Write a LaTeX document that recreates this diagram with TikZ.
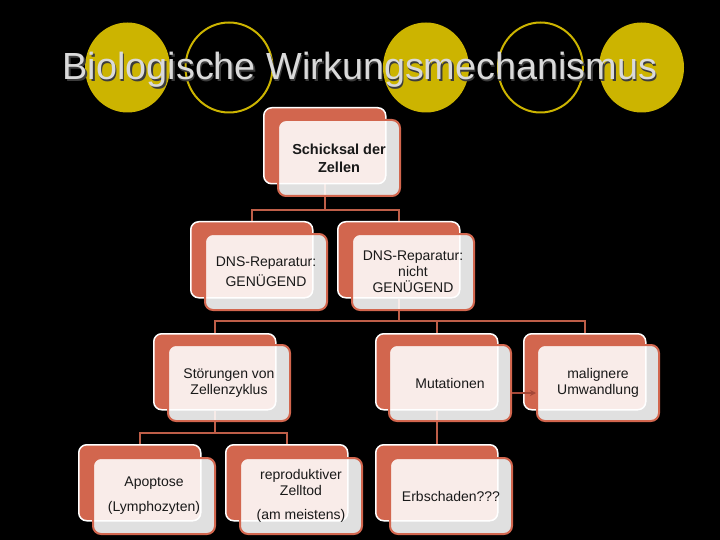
\documentclass[tikz,border=0pt]{standalone}
\usepackage{fontspec}
\setmainfont{Liberation Sans}
\usetikzlibrary{arrows.meta}
\pgfdeclarelayer{bg}
\pgfdeclarelayer{conns}
\pgfsetlayers{bg,conns,main}
\definecolor{ylw}{RGB}{204,180,0}
\definecolor{coral}{RGB}{210,102,78}
\definecolor{coralline}{RGB}{190,94,72}
\definecolor{arrowcol}{RGB}{165,72,56}
\definecolor{titlegray}{RGB}{218,218,218}
\definecolor{shadowgray}{RGB}{60,60,60}
\begin{document}
\begin{tikzpicture}[x=1pt,y=-1pt,
  backbox/.style={draw=white, line width=1.5pt, fill=coral, rounded corners=8pt,
    minimum width=122pt, minimum height=76pt, inner sep=0pt, anchor=north west},
  frontbox/.style={draw=coral, line width=2pt, fill=white, fill opacity=0.88, text opacity=1,
    rounded corners=8pt, minimum width=122pt, minimum height=76pt, inner sep=0pt,
    anchor=north west, align=center, text=black!90, font=\fontsize{14}{16}\selectfont},
  conn/.style={draw=coralline, line width=2.5pt},
  deco/.style={ylw, line width=2pt},
  titlefont/.style={font=\fontsize{37.8}{40}\selectfont, anchor=base}]
\useasboundingbox (0,0) rectangle (720,540);
\begin{pgfonlayer}{bg}
\fill[black] (0,0) rectangle (720,540);
\end{pgfonlayer}
% decorative circles
\fill[ylw] (127.5,67.5) ellipse [x radius=42.5, y radius=45];
\draw[deco] (229,67.5) ellipse [x radius=43.5, y radius=45];
\fill[ylw] (426,67.5) ellipse [x radius=43, y radius=45];
\draw[deco] (540.5,67.5) ellipse [x radius=42.5, y radius=45];
\fill[ylw] (641.5,67.5) ellipse [x radius=42.5, y radius=45];
% title with soft shadow
\node[titlefont, text=shadowgray] (titleshadow) at (361.5,81.5) {Biologische Wirkungsmechanismus};
\node[titlefont, text=titlegray] (title) at (360,80) {Biologische Wirkungsmechanismus};
% junction coordinates
\coordinate (j1) at (324,210);
\coordinate (j2) at (398,321);
\coordinate (j3) at (214,433);
% back boxes
\path (263,107) node[backbox] (sB) {};
\path (190,221) node[backbox] (dgB) {};
\path (337,221) node[backbox] (dnB) {};
\path (153,333) node[backbox] (stB) {};
\path (375,333) node[backbox] (muB) {};
\path (523,333) node[backbox] (maB) {};
\path (78,444) node[backbox] (apB) {};
\path (225,444) node[backbox] (reB) {};
\path (375,444) node[backbox] (erB) {};
% connectors (behind the boxes)
\begin{pgfonlayer}{conns}
\draw[conn] (sB.south) -- (sB.south |- j1);
\draw[conn] (dgB.north) -- (dgB.north |- j1) -- (dnB.north |- j1) -- (dnB.north);
\draw[conn] (dnB.south) -- (dnB.south |- j2);
\draw[conn] (stB.north) -- (stB.north |- j2) -- (maB.north |- j2) -- (maB.north);
\draw[conn] (muB.north) -- (muB.north |- j2);
\draw[conn] (stB.south) -- (stB.south |- j3);
\draw[conn] (apB.north) -- (apB.north |- j3) -- (reB.north |- j3) -- (reB.north);
\draw[conn] (muB.south) -- (erB.north);
\end{pgfonlayer}
% front boxes with text
\path (277,119) node[frontbox, font=\fontsize{14.5}{18}\selectfont\bfseries] (sF) {Schicksal der\\Zellen};
\path (204,233) node[frontbox] (dgF) {DNS-Reparatur:\\[4pt]GENÜGEND};
\path (351,233) node[frontbox] (dnF) {DNS-Reparatur:\\nicht\\GENÜGEND};
\path (167,344) node[frontbox] (stF) {Störungen von\\Zellenzyklus};
\path (388,344) node[frontbox] (muF) {Mutationen};
\path (536,344) node[frontbox] (maF) {malignere\\Umwandlung};
\path (92,457) node[frontbox] (apF) {Apoptose\\[9pt](Lymphozyten)};
\path (239,457) node[frontbox] (reF) {reproduktiver\\Zelltod\\[8pt](am meistens)};
\path (389,457) node[frontbox] (erF) {Erbschaden???};
% arrow
\draw[draw=arrowcol, line width=1.5pt, -{Stealth[length=6pt,width=6pt]}]
  (muF.east |- 0,393) -- (maF.west |- 0,393);
\end{tikzpicture}
\end{document}
